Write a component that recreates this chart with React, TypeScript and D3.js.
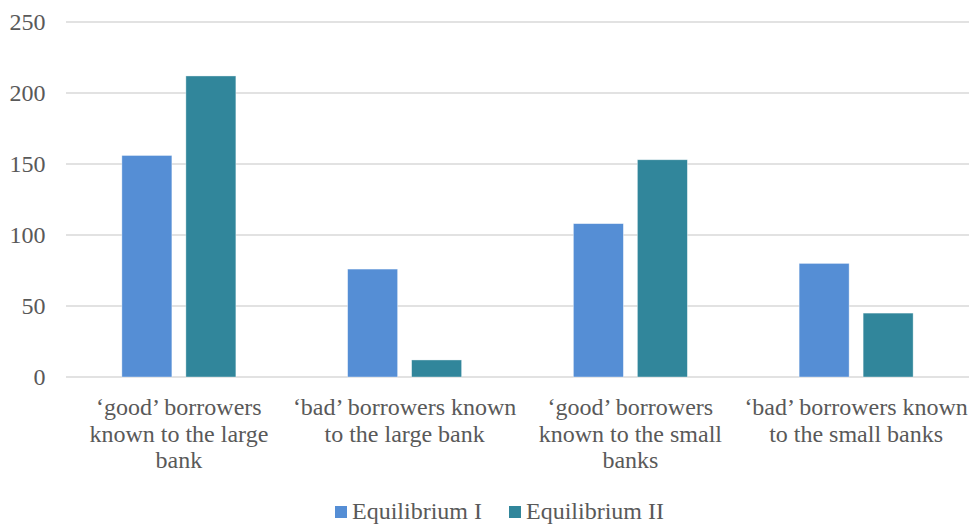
import React from "react";
import * as d3 from "d3";

const categories = [
  ["‘good’ borrowers", "known to the large", "bank"],
  ["‘bad’ borrowers known", "to the large bank"],
  ["‘good’ borrowers", "known to the small", "banks"],
  ["‘bad’ borrowers known", "to the small banks"],
];
const seriesNames = ["Equilibrium I", "Equilibrium II"];
const equilibriumI = [156, 76, 108, 80];
const equilibriumII = [212, 12, 153, 45];
const yTicks = [0, 50, 100, 150, 200, 250];
const colors = ["#558ED5", "#31869B"];

export default function App() {
  const W = 969, H = 524;
  const left = 66, right = 969, top = 22, bottom = 377;
  const y = d3.scaleLinear().domain([0, 250]).range([bottom, top]);
  const x0 = d3.scaleBand<number>().domain(d3.range(4)).range([left, right]).paddingInner(0).paddingOuter(0);
  const groupW = 114;
  const x1 = d3.scaleBand<number>().domain([0, 1]).range([0, groupW]).paddingInner(14 / 64).paddingOuter(0);
  const series = [equilibriumI, equilibriumII];
  const ts: React.CSSProperties = { fontFamily: `"Times New Roman"`, fontSize: 24 };
  return (
    <svg width={W} height={H} style={{ position: "absolute", left: 0, top: 0, background: "#fff", fontFamily: `"Times New Roman"` }}>
      {yTicks.map((t) => (
        <g key={t}>
          <line x1={left} x2={right} y1={y(t)} y2={y(t)} stroke="#d9d9d9" strokeWidth={1.5} />
          <text x={45.5} y={y(t)} dy="0.35em" textAnchor="end" style={ts} fill="#595959">{t}</text>
        </g>
      ))}
      {series.map((vals, s) =>
        vals.map((v, i) => {
          const gx = x0(i)! + (x0.bandwidth() - groupW) / 2;
          return (
            <rect key={s + "-" + i} x={gx + x1(s)!} width={x1.bandwidth()} y={y(v)} height={y(0) - y(v)}
              fill={colors[s]} stroke="#ffffff" strokeOpacity={0.5} strokeWidth={0.75} />
          );
        })
      )}
      {categories.map((lines, i) => (
        <text key={i} textAnchor="middle" style={ts} fill="#595959">
          {lines.map((l, j) => (
            <tspan key={j} x={x0(i)! + x0.bandwidth() / 2} y={415 + j * 26.5}>{l}</tspan>
          ))}
        </text>
      ))}
      {seriesNames.map((n, s) => {
        const lx = s === 0 ? 335 : 509;
        return (
          <g key={n}>
            <rect x={lx} y={506} width={12} height={12} fill={colors[s]} />
            <text x={lx + 17} y={519} style={ts} fill="#595959">{n}</text>
          </g>
        );
      })}
    </svg>
  );
}
